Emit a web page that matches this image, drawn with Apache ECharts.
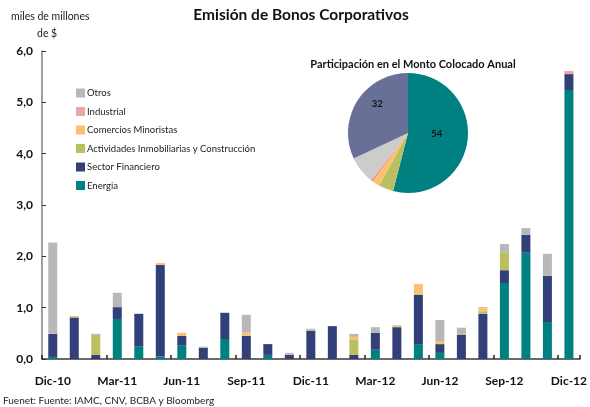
<!DOCTYPE html>
<html>
<head>
<meta charset="utf-8">
<script src="https://cdn.jsdelivr.net/npm/echarts@6/dist/echarts.min.js"></script>
<style>html,body{margin:0;padding:0;background:#fff;}#c{width:590px;height:407px;}</style>
</head>
<body>
<div id="c"></div>
<script>
const categories = ['Dic-10','Ene-11','Feb-11','Mar-11','Abr-11','May-11','Jun-11','Jul-11','Ago-11','Sep-11','Oct-11','Nov-11','Dic-11','Ene-12','Feb-12','Mar-12','Abr-12','May-12','Jun-12','Jul-12','Ago-12','Sep-12','Oct-12','Nov-12','Dic-12'];
const energia    = [0.04,0,0,0.78,0.25,0.05,0.27,0,0.39,0,0.08,0,0,0,0,0.18,0,0.29,0.12,0,0,1.48,2.07,0.72,5.24];
const financiero = [0.45,0.81,0.08,0.23,0.63,1.78,0.18,0.22,0.51,0.45,0.21,0.08,0.55,0.64,0.08,0.33,0.62,0.96,0.17,0.47,0.88,0.25,0.35,0.90,0.31];
const inmob      = [0,0,0.39,0,0,0,0,0,0,0,0,0,0.02,0,0.29,0,0,0.02,0,0.02,0.05,0.35,0,0,0];
const comercios  = [0,0.03,0,0,0,0.04,0.06,0,0,0.05,0,0,0,0,0.06,0,0.03,0.19,0.06,0,0.06,0,0,0,0];
const industrial = [0,0,0,0,0,0,0,0,0,0.02,0,0.02,0,0,0,0,0,0,0,0,0.02,0,0,0,0.06];
const otros      = [1.78,0,0.02,0.28,0,0,0,0.02,0,0.34,0,0.02,0.02,0,0.06,0.11,0.01,0,0.41,0.12,0,0.16,0.13,0.43,0];
const pieNames   = ['Energía','Actividades Inmobiliarias y Construcción','Comercios Minoristas','Industrial','Otros','Sector Financiero'];
const pieValues  = [54,4,2,0.5,7.5,32];
const yTicks = [0,1,2,3,4,5,6];

const F = 'Lato, "Open Sans", sans-serif';
const barColors = {
  'Energia':'#008080','Sector Financiero':'#323f78','Actividades Inmobiliarias y Construcción':'#bcbf60',
  'Comercios Minoristas':'#fcc06e','Industrial':'#e8a8a8','Otros':'#b8b8b8'
};
const pieColors = ['#008080','#bcbf60','#fcc06e','#f08a8a','#cccccc','#687098'];
// label nudges (line height of an empty second line shifts text up; right padding shifts left)
const pieLabelLH  = {0:7, 5:22};
const pieLabelPad = {0:[0,8,0,0], 5:[0,6,0,0]};

function bar(name, data){
  return {name, type:'bar', stack:'s', data, barWidth:9, itemStyle:{color:barColors[name]}, silent:true};
}

const chart = echarts.init(document.getElementById('c'), null, {renderer:'canvas'});
chart.setOption({
  animation:false,
  textStyle:{fontFamily:F},
  title:[
    {text:'Emisión de Bonos Corporativos', left:296, top:2, textAlign:'center',
     textStyle:{fontFamily:F, fontSize:15.5, fontWeight:'bold', color:'#111'}},
    {text:'Participación en el Monto Colocado Anual', left:408, top:54, textAlign:'center',
     textStyle:{fontFamily:F, fontSize:11, fontWeight:'bold', color:'#111'}}
  ],
  legend:{
    data:['Otros','Industrial','Comercios Minoristas','Actividades Inmobiliarias y Construcción','Sector Financiero','Energia'],
    orient:'vertical', left:71, top:83, itemWidth:9, itemHeight:9, itemGap:8.5, icon:'rect',
    textStyle:{fontFamily:F, fontSize:9.5, color:'#222', padding:[0,0,0,-3]}, selectedMode:false
  },
  grid:{left:42, right:9, top:51, bottom:48, containLabel:false},
  xAxis:{
    type:'category', data:categories, boundaryGap:true,
    axisLine:{lineStyle:{color:'#6a6a6a', width:2}},
    axisTick:{show:true, inside:true, length:4, interval:2, lineStyle:{color:'#222', width:1.5}},
    axisLabel:{interval:2, margin:16, fontFamily:F, fontSize:12, fontWeight:'bold', color:'#111'}
  },
  yAxis:{
    type:'value', min:yTicks[0], max:yTicks[yTicks.length-1], interval:1,
    axisLine:{show:true, lineStyle:{color:'#808080', width:1.5}},
    axisTick:{show:true, inside:true, length:4, lineStyle:{color:'#333'}},
    splitLine:{show:false},
    axisLabel:{margin:9, fontFamily:F, fontSize:12, fontWeight:'bold', color:'#111',
      formatter:v=>v.toFixed(1).replace('.',',')}
  },
  graphic:[
    {type:'text', left:11, top:11, style:{text:'miles de millones', fontFamily:F, fontSize:10.5, fill:'#222'}},
    {type:'text', left:37, top:28, style:{text:'de $', fontFamily:F, fontSize:10.5, fill:'#222'}},
    {type:'text', left:3, top:396, style:{text:'Fuenet: Fuente: IAMC, CNV, BCBA y Bloomberg', fontFamily:F, fontSize:10, fill:'#222'}}
  ],
  series:[
    bar('Energia', energia),
    bar('Sector Financiero', financiero),
    bar('Actividades Inmobiliarias y Construcción', inmob),
    bar('Comercios Minoristas', comercios),
    bar('Industrial', industrial),
    bar('Otros', otros),
    {type:'pie', center:[408,133], radius:60, startAngle:90, clockwise:true, silent:true,
     data: pieNames.map((n,i)=>({name:n+' ', value:pieValues[i], itemStyle:{color:pieColors[i]},
        label:{show: pieValues[i]>20, padding: pieLabelPad[i] || 0, lineHeight: pieLabelLH[i] || 12}})),
     label:{position:'inside', formatter:p=>String(Math.round(p.value))+'\n ', fontFamily:F, fontSize:9.5, fontWeight:'bold', color:'#111'},
     labelLine:{show:false}, itemStyle:{borderWidth:0}}
  ]
});
</script>
</body>
</html>
